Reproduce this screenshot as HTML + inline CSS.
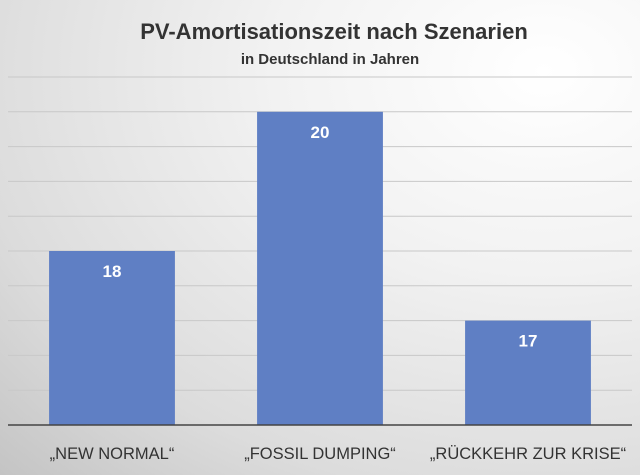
<!DOCTYPE html>
<html><head><meta charset="utf-8"><style>
body{margin:0;width:640px;height:475px;overflow:hidden;font-family:"Liberation Sans",sans-serif}
#bg{position:absolute;left:0;top:0;width:640px;height:475px;background:radial-gradient(ellipse at 85% 15%,#ffffff 0%,#f2f2f2 35%,#dcdcdc 75%,#c4c4c4 100%)}
</style></head><body>
<div id="bg"></div>
<svg id="chart" width="640" height="475" style="position:absolute;left:0;top:0">
<text x="334" y="39" text-anchor="middle" font-size="22" font-weight="bold" fill="#333">PV-Amortisationszeit nach Szenarien</text>
<text x="330" y="64" text-anchor="middle" font-size="15" font-weight="bold" fill="#333">in Deutschland in Jahren</text>
<g id="grid"></g><g id="bars"></g><g id="labels"></g>
</svg>
<script>
const categories=["„NEW NORMAL“","„FOSSIL DUMPING“","„RÜCKKEHR ZUR KRISE“"];
const values=[18,20,17];
const valueLabels=["18","20","17"];
const yMin=15.5,yMax=20.5,yStep=0.5;
const plotL=8,plotR=632,plotT=77,plotB=425;
const ns="http://www.w3.org/2000/svg";
function y(v){return plotB-(v-yMin)/(yMax-yMin)*(plotB-plotT);}
const bw=(plotR-plotL)/categories.length;
function x(i){return plotL+i*bw;}
const grid=document.getElementById('grid'),bars=document.getElementById('bars'),labels=document.getElementById('labels');
for(let v=yMin+yStep;v<=yMax+1e-9;v+=yStep){
 const l=document.createElementNS(ns,'line');
 
 
 l.setAttribute('x1',plotL);l.setAttribute('x2',plotR);l.setAttribute('y1',y(v));l.setAttribute('y2',y(v));
 l.setAttribute('stroke','#c8c8c8');l.setAttribute('stroke-width','1');grid.appendChild(l);
}
values.forEach((v,i)=>{
 const w=bw*0.605,bx=x(i)+(bw-w)/2;
 const r=document.createElementNS(ns,'rect');
 
 
 r.setAttribute('x',bx);r.setAttribute('y',y(v));r.setAttribute('width',w);r.setAttribute('height',plotB-y(v));
 r.setAttribute('fill','#5f7fc4');bars.appendChild(r);
 const t=document.createElementNS(ns,'text');
 
 
 t.setAttribute('x',bx+w/2);t.setAttribute('y',y(v)+26);t.setAttribute('text-anchor','middle');
 t.setAttribute('font-size','17');t.setAttribute('font-weight','bold');t.setAttribute('fill','#fff');
 t.textContent=valueLabels[i];labels.appendChild(t);
 const c=document.createElementNS(ns,'text');
 
 
 c.setAttribute('x',x(i)+bw/2);c.setAttribute('y',459);c.setAttribute('text-anchor','middle');
 c.setAttribute('font-size','16.5');c.setAttribute('fill','#333');
 c.textContent=categories[i];labels.appendChild(c);
});
const ax=document.createElementNS(ns,'line');


ax.setAttribute('x1',plotL);ax.setAttribute('x2',plotR);ax.setAttribute('y1',plotB);ax.setAttribute('y2',plotB);
ax.setAttribute('stroke','#444');ax.setAttribute('stroke-width','1.5');labels.appendChild(ax);
</script>
</body></html>
